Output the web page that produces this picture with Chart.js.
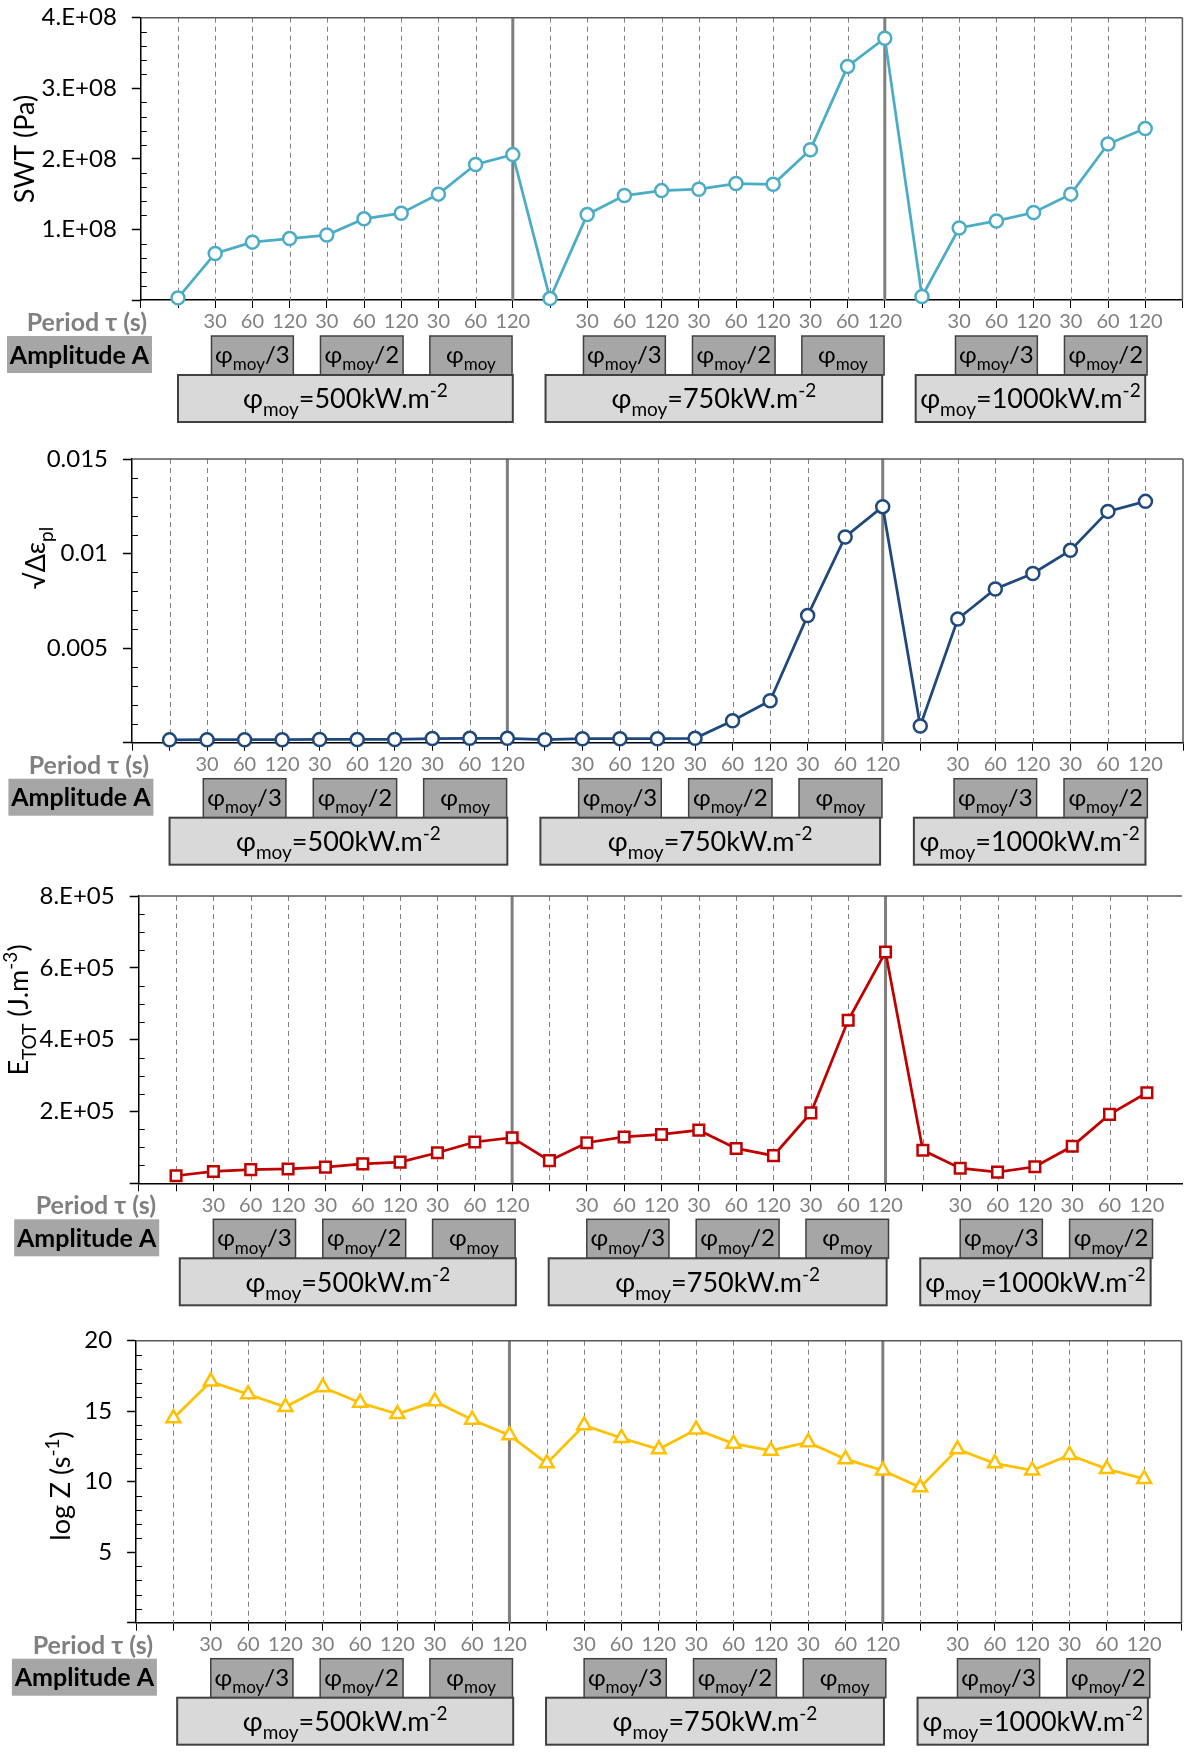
<!DOCTYPE html>
<html>
<head>
<meta charset="utf-8">
<script src="https://cdn.jsdelivr.net/npm/chart.js@4.4.1/dist/chart.umd.min.js"></script>
<style>
  html, body { margin: 0; padding: 0; background: #fff; overflow: hidden; }
  canvas { display: block; }
</style>
</head>
<body>
<canvas id="swtChart" width="1192" height="430"></canvas>
<canvas id="strainChart" width="1192" height="440"></canvas>
<canvas id="energyChart" width="1192" height="440"></canvas>
<canvas id="logzChart" width="1192" height="443"></canvas>
<script>
// Categories (x = 1..27). A blank label is the reference test before each flux level
const periodLabels = ['', '30', '60', '120', '30', '60', '120', '30', '60', '120',
                      '', '30', '60', '120', '30', '60', '120', '30', '60', '120',
                      '', '30', '60', '120', '30', '60', '120'];
const fluxLabels = ['500', '750', '1000'];
const amplitudeLabels = ['/3', '/2', ''];

// Series values
const swtValues = [3e6, 6.6e7, 8.2e7, 8.7e7, 9.2e7, 1.15e8, 1.23e8, 1.5e8, 1.92e8, 2.06e8,
                   2e6, 1.21e8, 1.48e8, 1.55e8, 1.57e8, 1.65e8, 1.64e8, 2.13e8, 3.31e8, 3.71e8,
                   5e6, 1.02e8, 1.12e8, 1.24e8, 1.5e8, 2.21e8, 2.43e8];
const strainValues = [0.00015, 0.00016, 0.00016, 0.00016, 0.00017, 0.00017, 0.00017, 0.00022, 0.00023, 0.00023,
                      0.00016, 0.00021, 0.00021, 0.00021, 0.00023, 0.00116, 0.00222, 0.00672, 0.01088, 0.01248,
                      0.00088, 0.00654, 0.00813, 0.00895, 0.01017, 0.01223, 0.01276];
const energyValues = [2.1e4, 3.3e4, 3.8e4, 4.0e4, 4.5e4, 5.4e4, 5.9e4, 8.5e4, 1.15e5, 1.27e5,
                      6.3e4, 1.13e5, 1.29e5, 1.36e5, 1.48e5, 9.7e4, 7.7e4, 1.96e5, 4.54e5, 6.44e5,
                      9.2e4, 4.2e4, 3.1e4, 4.6e4, 1.03e5, 1.92e5, 2.52e5];
const logZValues = [14.5, 17.1, 16.2, 15.3, 16.7, 15.6, 14.8, 15.7, 14.4, 13.3,
                    11.3, 14.0, 13.1, 12.3, 13.7, 12.7, 12.2, 12.8, 11.6, 10.8,
                    9.6, 12.3, 11.3, 10.8, 11.9, 10.9, 10.2];

// Y tick labels (from 0 upward)
const swtTicks = ['', '1.E+08', '2.E+08', '3.E+08', '4.E+08'];
const strainTicks = ['', '0.005', '0.01', '0.015'];
const energyTicks = ['', '2.E+05', '4.E+05', '6.E+05', '8.E+05'];
const logZTicks = ['', '5', '10', '15', '20'];

const FONT = 'Lato, "Open Sans", "Noto Sans", sans-serif';

// box spans on the x scale (flux level) and relative to group start (amplitudes)
const fluxBoxSpan = [[1, 10], [10.88, 19.93], [20.83, 27]];
const ampBoxSpan = [[0.9, 3.1], [3.83, 6.05], [6.77, 8.98]];

function drawRich(ctx, parts, x, y, size, align, weight) {
  const small = Math.round(size * 0.72);
  const font = s => (weight || '') + ' ' + s + 'px ' + FONT;
  let w = 0;
  parts.forEach(([t, m]) => { ctx.font = font(m ? small : size); w += ctx.measureText(t).width; });
  let cx = align === 'center' ? x - w / 2 : align === 'right' ? x - w : x;
  const base = y + size * 0.36;
  ctx.textAlign = 'left';
  ctx.textBaseline = 'alphabetic';
  parts.forEach(([t, m]) => {
    ctx.font = font(m ? small : size);
    const dy = m === 'sub' ? size * 0.3 : m === 'sup' ? -size * 0.4 : 0;
    ctx.fillText(t, cx, base + dy);
    cx += ctx.measureText(t).width;
  });
}

const panelDecor = {
  id: 'panelDecor',
  beforeDatasetsDraw(chart, args, p) {
    const { ctx, chartArea: a, scales: { x, y } } = chart;
    ctx.save();
    // dashed vertical lines on every category
    ctx.strokeStyle = '#808080';
    ctx.lineWidth = 1;
    ctx.setLineDash([5, 4]);
    for (let i = 1; i <= periodLabels.length; i++) {
      if (i === 10 || i === 20) continue;
      const px = Math.round(x.getPixelForValue(i)) + 0.5;
      ctx.beginPath(); ctx.moveTo(px, a.top); ctx.lineTo(px, a.bottom); ctx.stroke();
    }
    ctx.setLineDash([]);
    // solid separators between flux levels
    ctx.strokeStyle = '#7f7f7f';
    ctx.lineWidth = 3;
    [10, 20].forEach(i => {
      const px = x.getPixelForValue(i);
      ctx.beginPath(); ctx.moveTo(px, a.top); ctx.lineTo(px, a.bottom); ctx.stroke();
    });
    // frame
    ctx.strokeStyle = '#595959';
    ctx.lineWidth = 1.5;
    ctx.beginPath(); ctx.moveTo(a.left, a.top); ctx.lineTo(a.right, a.top); ctx.stroke();
    if (p.frameRight) {
      ctx.beginPath(); ctx.moveTo(a.right, a.top); ctx.lineTo(a.right, a.bottom); ctx.stroke();
    }
    // minor ticks inside the y axis
    ctx.strokeStyle = '#000';
    ctx.lineWidth = 1;
    const n = Math.round(y.max / p.minor), per = Math.round(p.step / p.minor);
    for (let k = 1; k < n; k++) {
      if (k % per === 0) continue;
      const py = Math.round(y.getPixelForValue(k * p.minor)) + 0.5;
      ctx.beginPath(); ctx.moveTo(a.left, py); ctx.lineTo(a.left + 6, py); ctx.stroke();
    }
    ctx.restore();
  },
  afterDraw(chart, args, p) {
    const { ctx, chartArea: a, scales: { x } } = chart;
    ctx.save();
    ctx.fillStyle = '#000';
    // y axis title
    ctx.save();
    ctx.translate(p.titleX, p.titleY);
    ctx.rotate(-Math.PI / 2);
    drawRich(ctx, p.title, 0, 0, 27, 'center');
    ctx.restore();

    // row labels
    ctx.fillStyle = '#808080';
    drawRich(ctx, [['Period τ (s)']], p.periodRight, a.bottom + 22, 25, 'right', 'bold');
    ctx.fillStyle = '#a6a6a6';
    ctx.fillRect(p.boxLeft, a.bottom + 36, 145, 37);
    ctx.fillStyle = '#000';
    drawRich(ctx, [['Amplitude A']], p.boxLeft + 72.5, a.bottom + 54.5, 25, 'center', 'bold');

    // amplitude and flux boxes
    const starts = [];
    periodLabels.forEach((l, i) => { if (l === '') starts.push(i + 1); });
    starts.forEach((s, g) => {
      const end = g + 1 < starts.length ? starts[g + 1] - 1 : periodLabels.length;
      const nAmp = Math.round((end - s) / 3);
      for (let k = 0; k < nAmp; k++) {
        const x0 = x.getPixelForValue(s + ampBoxSpan[k][0] + p.shift);
        const x1 = x.getPixelForValue(s + ampBoxSpan[k][1] + p.shift);
        const y0 = a.bottom + 36, y1 = a.bottom + 75;
        ctx.fillStyle = '#a6a6a6';
        ctx.fillRect(x0, y0, x1 - x0, y1 - y0);
        ctx.strokeStyle = '#404040'; ctx.lineWidth = 1.5;
        ctx.strokeRect(x0, y0, x1 - x0, y1 - y0);
        ctx.fillStyle = '#000';
        drawRich(ctx, [['φ'], ['moy', 'sub'], [amplitudeLabels[k]]], (x0 + x1) / 2, (y0 + y1) / 2 - 1, 24, 'center');
      }
      const f0 = x.getPixelForValue(fluxBoxSpan[g][0] + p.shift);
      const f1 = Math.min(x.getPixelForValue(fluxBoxSpan[g][1] + p.shift), chart.width - 1);
      const y0 = a.bottom + 75, y1 = a.bottom + 122;
      ctx.fillStyle = '#d9d9d9';
      ctx.fillRect(f0, y0, f1 - f0, y1 - y0);
      ctx.strokeStyle = '#404040'; ctx.lineWidth = 2;
      ctx.strokeRect(f0, y0, f1 - f0, y1 - y0);
      ctx.fillStyle = '#000';
      drawRich(ctx, [['φ'], ['moy', 'sub'], ['=' + fluxLabels[g] + 'kW.m'], ['-2', 'sup']],
               (f0 + f1) / 2, (y0 + y1) / 2, 27, 'center');
    });
    ctx.restore();
  }
};

function makePanel(cfg) {
  const points = cfg.values.map((v, i) => ({ x: i + 1, y: v }));
  return new Chart(document.getElementById(cfg.id), {
    type: 'line',
    data: {
      datasets: [{
        data: points,
        borderColor: cfg.color,
        borderWidth: 2.75,
        pointStyle: cfg.point,
        pointRadius: cfg.radius,
        pointHoverRadius: cfg.radius,
        pointBorderWidth: 2.5,
        pointBorderColor: cfg.color,
        pointBackgroundColor: '#fff',
        tension: 0,
        clip: false
      }]
    },
    options: {
      responsive: false,
      animation: false,
      layout: { padding: { left: 0, top: cfg.top, right: 1192 - cfg.right, bottom: 0 } },
      plugins: {
        legend: { display: false },
        tooltip: { enabled: false },
        panelDecor: cfg
      },
      scales: {
        x: {
          type: 'linear',
          min: 0,
          max: cfg.xMax,
          afterFit: s => {
            s.height = cfg.canvasH - cfg.bottom;
            s.paddingLeft = 0; s.paddingRight = 0;
          },
          grid: { display: true, drawOnChartArea: false, drawTicks: true, tickLength: 8, tickColor: '#000', tickWidth: 1 },
          border: { display: true, color: '#000', width: 1.5 },
          ticks: {
            stepSize: 1,
            includeBounds: false,
            autoSkip: false,
            maxRotation: 0,
            minRotation: 0,
            padding: 2,
            color: '#808080',
            font: { family: FONT, size: 20 },
            callback: v => (Number.isInteger(v) && v >= 1 && v <= periodLabels.length) ? periodLabels[v - 1] : ''
          }
        },
        y: {
          min: 0,
          max: cfg.step * (cfg.ticks.length - 1),
          afterFit: s => {
            s.width = cfg.left;
            s.paddingTop = 0; s.paddingBottom = 0;
          },
          grid: { display: true, drawOnChartArea: false, drawTicks: true, tickLength: 9, tickColor: '#000', tickWidth: 1.5 },
          border: { display: true, color: '#000', width: 1.5 },
          ticks: {
            stepSize: cfg.step,
            padding: 15,
            color: '#000',
            font: { family: FONT, size: 24 },
            callback: (v, i) => cfg.ticks[i]
          }
        }
      }
    },
    plugins: [panelDecor]
  });
}

makePanel({
  id: 'swtChart', canvasH: 430, values: swtValues, ticks: swtTicks, step: 1e8, minor: 2e7,
  color: '#4bacc6', point: 'circle', radius: 6.5,
  top: 17.7, bottom: 300, left: 140.8, right: 1182.4, xMax: 28, frameRight: true, shift: 0,
  title: [['SWT (Pa)']], titleX: 24, titleY: 149, periodRight: 147, boxLeft: 7
});
makePanel({
  id: 'strainChart', canvasH: 440, values: strainValues, ticks: strainTicks, step: 0.005, minor: 0.001,
  color: '#1f497d', point: 'circle', radius: 6.5,
  top: 29, bottom: 312.7, left: 132, right: 1187.6, xMax: 28, frameRight: true, shift: 0,
  title: [['√Δε'], ['pl', 'sub']], titleX: 35, titleY: 128, periodRight: 149, boxLeft: 8.4
});
makePanel({
  id: 'energyChart', canvasH: 440, values: energyValues, ticks: energyTicks, step: 2e5, minor: 5e4,
  color: '#c00000', point: 'rect', radius: 7.5,
  top: 26, bottom: 313.3, left: 138.7, right: 1192, xMax: 27.94, frameRight: false, shift: 0.1,
  title: [['E'], ['TOT', 'sub'], [' (J.m'], ['-3', 'sup'], [')']], titleX: 18, titleY: 140, periodRight: 156, boxLeft: 14.2
});
makePanel({
  id: 'logzChart', canvasH: 443, values: logZValues, ticks: logZTicks, step: 5, minor: 1,
  color: '#ffc000', point: 'triangle', radius: 8,
  top: 30.7, bottom: 312.7, left: 136.1, right: 1187.8, xMax: 28, frameRight: true, shift: 0.1,
  title: [['log Z (s'], ['-1', 'sup'], [')']], titleX: 60, titleY: 176, periodRight: 153, boxLeft: 11.9
});
</script>
</body>
</html>
